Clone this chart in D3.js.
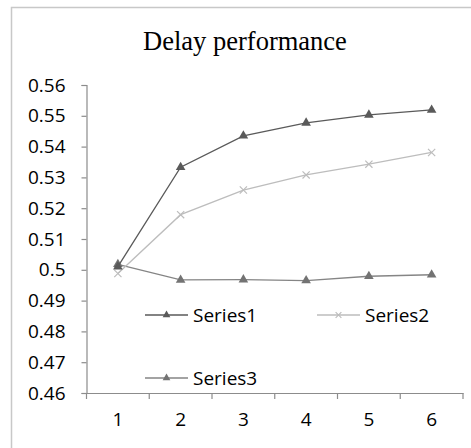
<!DOCTYPE html>
<html lang="en">
<head>
  <meta charset="UTF-8">
  <title>Delay performance</title>
  <style>
    html, body {
      margin: 0;
      overflow: hidden;
      width: 100%;
      height: 100%;
      background: #fff;
    }
    svg {
      position: absolute;
      top: 0;
      left: 0;
    }
  </style>
</head>
<body>
  <svg width="471" height="448"></svg>
</body>
<script src="https://d3js.org/d3.v7.min.js"></script>
<script type="text/javascript">
  const categories = [1, 2, 3, 4, 5, 6]
  const series1 = [0.501, 0.5333, 0.5435, 0.5477, 0.5503, 0.5519]
  const series2 = [0.4988, 0.5179, 0.5259, 0.5308, 0.5343, 0.5381]
  const series3 = [0.5018, 0.4967, 0.4968, 0.4965, 0.4979, 0.4984]
  const seriesNames = ['Series1', 'Series2', 'Series3']
  const yTicks = [0.46, 0.47, 0.48, 0.49, 0.5, 0.51, 0.52, 0.53, 0.54, 0.55, 0.56]
  const yTickLabels = ['0.46', '0.47', '0.48', '0.49', '0.5', '0.51', '0.52', '0.53', '0.54', '0.55', '0.56']

  const svg = d3.select('svg')
  const font = '"Open Sans", "Liberation Sans", sans-serif'
  const axisColor = '#8c8c8c'

  const series = [
    { name: seriesNames[0], values: series1, color: '#5a5a5a', fill: '#5a5a5a', marker: 'tri' },
    { name: seriesNames[1], values: series2, color: '#bdbdbd', fill: '#bdbdbd', marker: 'x' },
    { name: seriesNames[2], values: series3, color: '#858585', fill: '#737373', marker: 'tri' }
  ]

  // chart frame
  svg.append('path')
    .attr('d', 'M11.5,480 L11.5,7.5 L480,7.5')
    .attr('fill', 'none')
    .attr('stroke', '#c8c8c8')
    .attr('stroke-width', 1.5)

  // title
  svg.append('text')
    .attr('x', 245)
    .attr('y', 50)
    .attr('text-anchor', 'middle')
    .attr('font-family', '"Liberation Serif", "Times New Roman", serif')
    .attr('font-size', '26.5px')
    .attr('fill', '#000')
    .text('Delay performance')

  const x = d3.scaleBand().domain(categories).range([86.5, 463]).paddingInner(0).paddingOuter(0)
  const y = d3.scaleLinear().domain([0.46, 0.56]).range([393, 85])
  const cx = d => x(d) + x.bandwidth() / 2

  // y axis
  const yAxis = svg.append('g')
    .attr('transform', 'translate(86.5,0)')
    .call(d3.axisLeft(y).tickValues(yTicks).tickSize(5).tickPadding(16)
      .tickFormat((d, i) => yTickLabels[i]))
  yAxis.select('.domain').attr('stroke', axisColor).attr('stroke-width', 1.2)
  yAxis.selectAll('.tick line').attr('stroke', axisColor).attr('stroke-width', 1.2)
  yAxis.selectAll('.tick text')
    .attr('font-family', font)
    .attr('font-size', '19px')
    .attr('fill', '#000')

  // x axis
  const xAxis = svg.append('g')
    .attr('transform', 'translate(0,393)')
    .call(d3.axisBottom(x).tickSize(0).tickPadding(20))
  xAxis.select('.domain').attr('stroke', axisColor).attr('stroke-width', 1.2)
  xAxis.selectAll('.tick text')
    .attr('font-family', font)
    .attr('font-size', '19px')
    .attr('fill', '#000')

  // tick marks sit on the category boundaries
  const boundaries = categories.map(d => x(d)).concat([x(categories[categories.length - 1]) + x.bandwidth()])
  xAxis.selectAll('line.bound')
    .data(boundaries)
    .enter().append('line')
      .attr('class', 'bound')
      .attr('x1', d => d)
      .attr('x2', d => d)
      .attr('y1', 0)
      .attr('y2', 6)
      .attr('stroke', axisColor)
      .attr('stroke-width', 1.2)

  function drawMarker(g, s, px, py, scale) {
    if (s.marker === 'tri') {
      g.append('path')
        .attr('d', d3.symbol().type(d3.symbolTriangle).size(40 * scale * scale)())
        .attr('transform', `translate(${px},${py})`)
        .attr('fill', s.fill)
    } else {
      const r = 3.6 * scale
      g.append('path')
        .attr('d', `M${px - r},${py - r}L${px + r},${py + r}M${px - r},${py + r}L${px + r},${py - r}`)
        .attr('stroke', s.color)
        .attr('stroke-width', 1.2)
        .attr('fill', 'none')
    }
  }

  // lines
  const line = d3.line().x((d, i) => cx(categories[i])).y(d => y(d))
  const plot = svg.append('g')
  series.slice().reverse().forEach(s => {
    plot.append('path')
      .datum(s.values)
      .attr('d', line)
      .attr('fill', 'none')
      .attr('stroke', s.color)
      .attr('stroke-width', 1.3)
    s.values.forEach((v, i) => drawMarker(plot, s, cx(categories[i]), y(v), 1))
  })

  // legend
  const legendPos = [[145, 315], [317, 315], [145, 378]]
  const legend = svg.append('g')
  series.forEach((s, i) => {
    const [lx, ly] = legendPos[i]
    legend.append('line')
      .attr('x1', lx).attr('x2', lx + 43)
      .attr('y1', ly).attr('y2', ly)
      .attr('stroke', s.color)
      .attr('stroke-width', 1.3)
    drawMarker(legend, s, lx + 21.5, ly, 0.8)
    legend.append('text')
      .attr('x', lx + 48)
      .attr('y', ly + 6.5)
      .attr('font-family', font)
      .attr('font-size', '19px')
      .attr('fill', '#000')
      .text(s.name)
  })
</script>
</html>
